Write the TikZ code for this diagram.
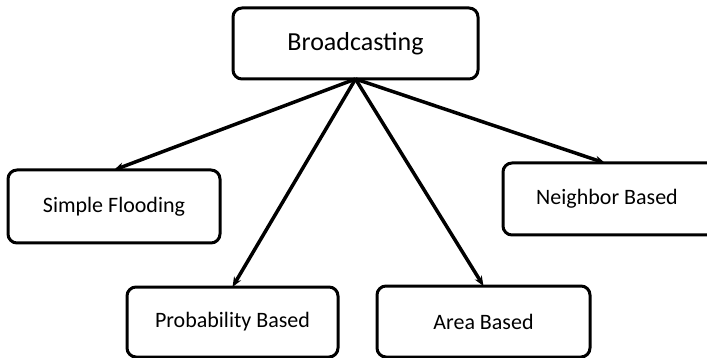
\documentclass[tikz,border=0pt]{standalone}
\usepackage{fontspec}
\setmainfont{Carlito}
\usepackage{tikz}
\usetikzlibrary{positioning,arrows.meta}

\begin{document}
\begin{tikzpicture}[x=1pt,y=-1pt,font=\fontsize{22}{26}\selectfont,
  kind/.style={draw=black,line width=3pt,rounded corners=9pt,minimum width=211pt,minimum height=71pt,inner sep=0pt,outer sep=0pt},
  root/.style={kind,minimum width=245pt,font=\fontsize{26}{30}\selectfont},
  arr/.style={-{Stealth[length=10pt,width=8pt]},black,line width=3.5pt}]
\useasboundingbox (0,0) rectangle (707,358);
\node[root] (bc) at (355.5,43.5) {Broadcasting};
\node[kind,minimum width=212pt,minimum height=73pt] (sf) at (114,206.5) {Simple Flooding};
\node[kind,minimum width=240pt,minimum height=72pt] (nb) at (623,199) {\hspace*{-32pt}Neighbor Based};
\node[kind,minimum height=70pt] (pb) at (232.5,322) {Probability Based};
\node[kind,minimum width=213pt] (ab) at (483.5,321.5) {Area Based};
\coordinate (nbtop) at (605,163);
\foreach \n in {sf.north,pb.north,ab.north,nbtop} \draw[arr] (bc.south) -- (\n);
\end{tikzpicture}
\end{document}
